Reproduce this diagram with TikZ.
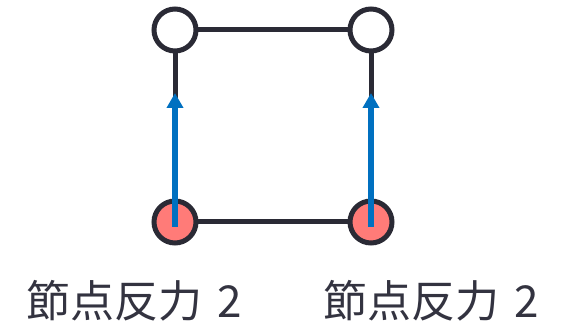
\documentclass[tikz,border=0pt]{standalone}
\usepackage{fontspec}
\newfontfamily\cjk{Noto Sans CJK JP}
\usetikzlibrary{arrows.meta}
\definecolor{edgec}{HTML}{2A2A35}
\definecolor{redc}{HTML}{FF7B78}
\definecolor{bluec}{HTML}{0070C0}
\definecolor{textc}{HTML}{333340}
\tikzset{
  nd/.style={circle, draw=edgec, line width=5pt, minimum size=42pt, inner sep=0pt},
  freend/.style={nd, fill=white},
  fixnd/.style={nd, fill=redc},
  member/.style={draw=edgec, line width=5pt},
  force/.style={draw=bluec, line width=6pt, -{Triangle[width=16pt,length=15pt]}},
  lbl/.style={font=\cjk\fontsize{44}{48}\selectfont, text=textc, inner sep=0pt}
}
\begin{document}
\begin{tikzpicture}[x=1pt,y=1pt]
\useasboundingbox (0,0) rectangle (561,326);
\coordinate (t1) at (175,296);
\coordinate (t2) at (371,296);
\coordinate (b1) at (175,104);
\coordinate (b2) at (371,104);
\draw[member] (t1) -- (t2);
\draw[member] (t1) -- (b1);
\draw[member] (t2) -- (b2);
\draw[member] (b1) -- (b2);
\node[freend] (n1) at (t1) {};
\node[freend] (n2) at (t2) {};
\node[fixnd] (n3) at (b1) {};
\node[fixnd] (n4) at (b2) {};
\coordinate (a1) at (175,233);
\coordinate (a2) at (371,233);
\coordinate (s1) at (175,99);
\coordinate (s2) at (371,99);
\draw[force] (s1) -- (a1);
\draw[force] (s2) -- (a2);
\node[lbl] (l1) at (134,25) {節点反力\hspace{0.35em}2};
\node[lbl] (l2) at (431,25) {節点反力\hspace{0.35em}2};
\end{tikzpicture}
\end{document}
